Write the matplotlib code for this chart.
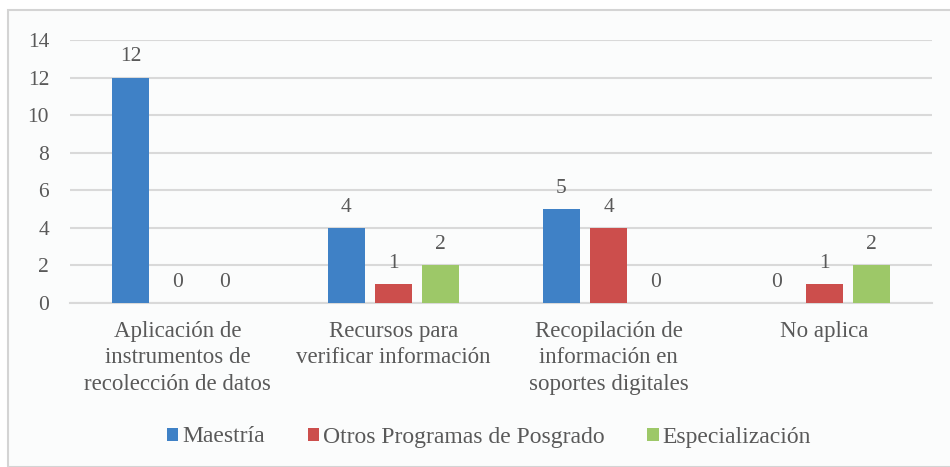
import numpy as np
import matplotlib.pyplot as plt
from matplotlib.patches import Rectangle

# data
categories = ['Aplicación de\ninstrumentos de\nrecolección de datos',
              'Recursos para\nverificar información',
              'Recopilación de\ninformación en\nsoportes digitales',
              'No aplica']
series_names = ['Maestría', 'Otros Programas de Posgrado', 'Especialización']
maestria = [12, 4, 5, 0]
otros = [0, 1, 4, 1]
especializacion = [0, 2, 0, 2]
yticks = [0, 2, 4, 6, 8, 10, 12, 14]

colors = ['#3F81C6', '#CC4E4C', '#9DC868']
txt = '#595959'
grid = '#D9D9D9'

plt.rcParams['font.family'] = 'serif'
plt.rcParams['font.serif'] = ['Liberation Serif', 'Times New Roman', 'DejaVu Serif']

fig = plt.figure(figsize=(9.5, 4.67), dpi=100)
fig.patch.set_facecolor('white')

# chart frame
frame = Rectangle((8/950, 0), 1.0, 1 - 10/467, transform=fig.transFigure,
                  facecolor='#FBFCFC', edgecolor='#D4D4D4', linewidth=1.5, zorder=-10)
fig.patches.append(frame)

ax = fig.add_axes([70/950, 1 - 303/467, (932 - 70)/950, (303 - 40)/467])
ax.set_facecolor('none')

x = np.arange(len(categories))
w = 0.172
off = 0.219
all_series = [maestria, otros, especializacion]
for i, (vals, name, c) in enumerate(zip(all_series, series_names, colors)):
    pos = x + (i - 1) * off
    ax.bar(pos, vals, width=w, color=c, label=name, zorder=3)
    for p, v in zip(pos, vals):
        ax.text(p, v + 0.6, str(v), ha='center', va='bottom', fontsize=15.5, color=txt)

ax.set_xlim(-0.5, len(categories) - 0.5)
ax.set_ylim(0, 14)
ax.set_yticks(yticks)
ax.set_yticklabels([str(t) for t in yticks], fontsize=15.5, color=txt)
ax.yaxis.grid(True, color=grid, linewidth=1.5, zorder=0)
ax.set_xticks(x)
ax.set_xticklabels(categories, fontsize=16.5, color=txt, linespacing=1.33, va='top')
ax.tick_params(axis='both', length=0)
ax.tick_params(axis='y', pad=15)
ax.tick_params(axis='x', pad=13)
for s in ['top', 'right', 'left']:
    ax.spines[s].set_visible(False)
ax.spines['bottom'].set_color(grid)
ax.spines['bottom'].set_linewidth(1.5)

leg = fig.legend(loc='center', bbox_to_anchor=(489/950, 1 - 437/467), ncol=3, frameon=False,
                 fontsize=17, handlelength=0.47, handleheight=0.47, handletextpad=0.17,
                 columnspacing=1.82)
for t in leg.get_texts():
    t.set_color(txt)

fig.savefig('out.png', dpi=100)
